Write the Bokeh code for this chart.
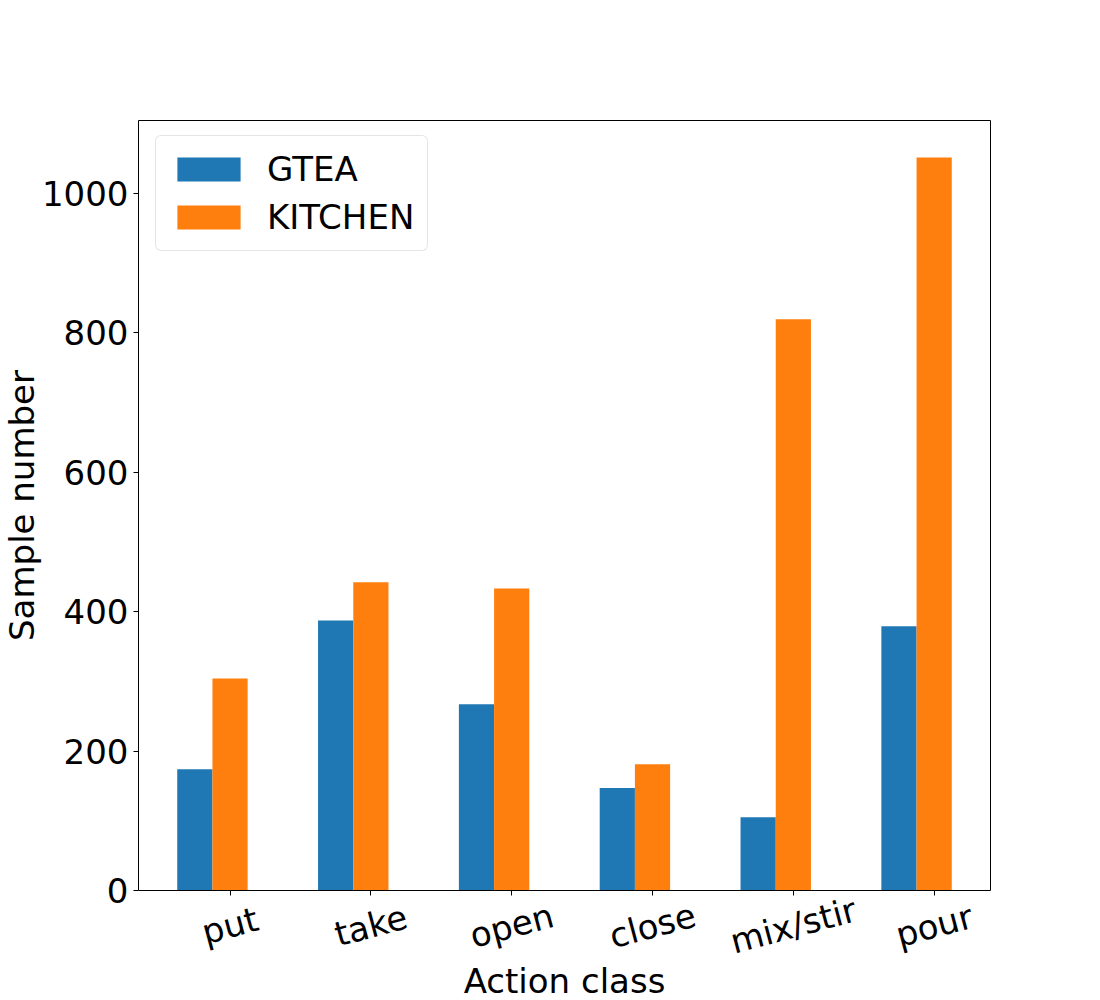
import math
from bokeh.plotting import figure
from bokeh.models import Range1d, FixedTicker, Legend, LegendItem, LinearAxis, ColumnDataSource
from bokeh.core.properties import value
from bokeh.embed import file_html
from bokeh.resources import INLINE

categories = ["put", "take", "open", "close", "mix/stir", "pour"]
gtea = [174, 387, 267, 147, 105, 379]
kitchen = [304, 442, 433, 181, 819, 1051]
y_ticks = [0, 200, 400, 600, 800, 1000]

FONT = "DejaVu Sans"
FS = "34px"
W, H = 1100, 1000
# axes box in canvas pixels and its data limits
BOX_L, BOX_R, BOX_T, BOX_B = 138, 990, 120, 890
AX_X0, AX_X1 = -0.65, 5.4
AX_Y0, AX_Y1 = 0, 1104

PX = (BOX_R - BOX_L) / (AX_X1 - AX_X0)   # pixels per x unit
PY = (BOX_B - BOX_T) / (AX_Y1 - AX_Y0)   # pixels per y unit

xr = Range1d(AX_X0 - BOX_L / PX, AX_X1 + (W - BOX_R) / PX)
yr = Range1d(AX_Y0 - (H - BOX_B) / PY, AX_Y1 + BOX_T / PY)

p = figure(
    output_backend="svg", toolbar_location=None,
    width=W, height=H,
    min_border_left=0, min_border_top=0, min_border_right=0, min_border_bottom=0,
    x_range=xr, y_range=yr, x_axis_type=None, y_axis_type=None,
)
p.background_fill_color = "white"
p.border_fill_color = "white"
p.outline_line_color = None
p.grid.visible = False

idx = list(range(len(categories)))
xg = [i - 0.25 for i in idx]
xk = [i for i in idx]
w = 0.25
r1 = p.vbar(x=xg, top=gtea, width=w, fill_color="#1f77b4", line_color=None)
r2 = p.vbar(x=xk, top=kitchen, width=w, fill_color="#ff7f0e", line_color=None)


def box_axis(loc, bounds, ticks):
    ax = LinearAxis(fixed_location=loc, bounds=bounds, ticker=FixedTicker(ticks=ticks))
    ax.axis_line_color = "black"
    ax.axis_line_width = 1
    ax.minor_tick_line_color = None
    ax.major_tick_out = 5
    ax.major_tick_in = 0
    ax.major_tick_line_color = "black"
    ax.major_label_text_font = FONT
    ax.major_label_text_font_size = FS
    ax.major_label_text_color = "black"
    return ax


yaxis = box_axis(AX_X0, (AX_Y0, AX_Y1), y_ticks)
yaxis.major_label_standoff = 5
p.add_layout(yaxis, "left")

xaxis = box_axis(AX_Y0, (AX_X0, AX_X1), idx)
xaxis.major_label_overrides = {i: "" for i in idx}
xaxis.major_label_standoff = 0
p.add_layout(xaxis, "below")

top_ax = box_axis(AX_Y1, (AX_X0, AX_X1), [])
top_ax.major_tick_line_color = None
p.add_layout(top_ax, "above")

right_ax = box_axis(AX_X1, (AX_Y0, AX_Y1), [])
right_ax.major_tick_line_color = None
p.add_layout(right_ax, "right")

# category labels rotated 15 degrees and centred under each tick
lab_src = ColumnDataSource(dict(x=idx, y=[AX_Y0 - 35 / PY] * len(idx), text=categories))
p.text(x="x", y="y", text="text", source=lab_src,
       angle=15 * math.pi / 180, text_align="center", text_baseline="middle",
       text_font=value(FONT), text_font_size=value(FS), text_color="black")

# axis titles
p.text(x=[(AX_X0 + AX_X1) / 2], y=[AX_Y0 - 90 / PY], text=["Action class"],
       text_align="center", text_baseline="alphabetic",
       text_font=value(FONT), text_font_size=value(FS), text_color="black")
p.text(x=[AX_X0 - (BOX_L - 21) / PX], y=[(AX_Y0 + AX_Y1) / 2], text=["Sample number"],
       angle=math.pi / 2, text_align="center", text_baseline="alphabetic",
       text_font=value(FONT), text_font_size=value(FS), text_color="black")

legend = Legend(items=[LegendItem(label="GTEA", renderers=[r1]),
                       LegendItem(label="KITCHEN", renderers=[r2])],
                location=(155, H - 137 - 114))
legend.label_text_font = FONT
legend.label_text_font_size = FS
legend.label_text_color = "black"
legend.glyph_width = 79
legend.glyph_height = 30
legend.label_standoff = 19
legend.label_height = 34
legend.spacing = 8
legend.padding = 13
legend.margin = 0
legend.border_line_color = "#cccccc"
legend.border_line_width = 1
legend.border_radius = 6
legend.background_fill_alpha = 0.8
p.add_layout(legend)

open("out.html", "w").write(file_html(p, INLINE))
